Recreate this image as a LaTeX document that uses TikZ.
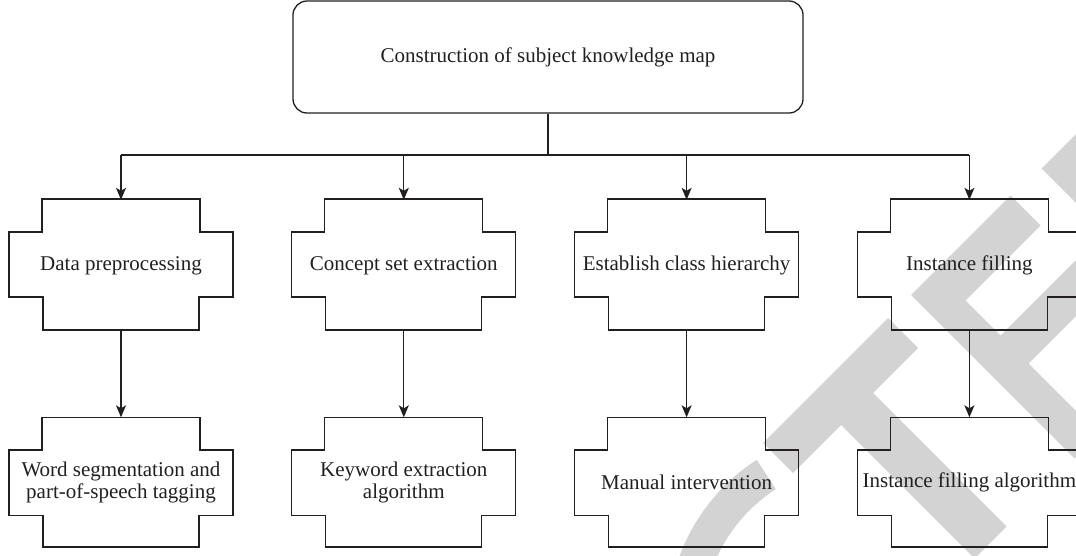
\documentclass[tikz,border=0pt]{standalone}
\usepackage{fontspec}
\setmainfont{Liberation Serif}
\usetikzlibrary{arrows.meta,calc}
\definecolor{ink}{RGB}{35,31,32}
\definecolor{wmgray}{RGB}{211,211,211}
\begin{document}
\begin{tikzpicture}[x=1pt,y=-1pt,
  line/.style={draw=ink,line width=1.3pt},
  arrow/.style={line,-{Stealth[length=12pt,width=10pt,inset=3pt]}},
  label/.style={text=ink,font=\fontsize{21}{21.5}\selectfont,align=center,inner sep=0pt},
  slot/.style={label,minimum width=158pt,minimum height=131pt},
  slotlow/.style={label,minimum width=156pt,minimum height=129.5pt},
  rootbox/.style={label,draw=ink,line width=1.3pt,rounded corners=14pt,minimum width=510pt,minimum height=112pt},
  wm/.style={fill=wmgray}]
\useasboundingbox (0,0) rectangle (1076,555);
% watermark
\begin{scope}
\clip (0,0) rectangle (1076,555);
\fill[wm] (763,443) -- (888,318) -- (918,348) -- (873,393) -- (1006.5,526.5) -- (974.5,558.5) -- (841,425) -- (793,473) -- cycle;
\fill[wm] (911,295) -- (1010.5,195.5) -- (1040.5,225.5) -- (965.5,300.5) -- (1000.5,335.5) -- (1075.5,260.5) -- (1103.5,288.5) -- (1028.5,363.5) -- (1077.5,412.5) -- (1152.5,337.5) -- (1174,359) -- (1074.5,458.5) -- cycle;
\fill[wm] (1041.5,168.5) -- (1155,55) -- (1316.5,216.5) -- (1203,330) -- cycle;
\fill[wm] ($(864,625)+(237:197)$) arc[start angle=237,end angle=165,radius=197] -- ($(864,625)+(165:162)$) arc[start angle=165,end angle=237,radius=162] -- cycle;
\end{scope}
% cross outlines
\foreach \c in {121,403.8,686.6,969.4}{
  \foreach \t/\a/\b/\e in {199/232/297/330, 417.5/450/515.5/547}{
    \draw[line] ({\c-79},\t) -- ({\c+79},\t) -- ({\c+79},\a) -- ({\c+112},\a) -- ({\c+112},\b) -- ({\c+78},\b) -- ({\c+78},\e) -- ({\c-78},\e) -- ({\c-78},\b) -- ({\c-112},\b) -- ({\c-112},\a) -- ({\c-79},\a) -- cycle;
  }
}
% nodes
\node[rootbox] (root) at (548,57) {Construction of subject knowledge map};
\node[slot] (a1) at (121,265.5) {Data preprocessing};
\node[slot] (a2) at (403.8,265.5) {Concept set extraction};
\node[slot] (a3) at (686.6,265.5) {Establish class hierarchy};
\node[slot] (a4) at (969.4,265.5) {Instance filling};
\node[slotlow] (b1) at (121,482.25) {Word segmentation and\\part-of-speech tagging};
\node[slotlow] (b2) at (403.8,482.25) {Keyword extraction\\algorithm};
\node[slotlow] (b3) at (686.6,482.25) {Manual intervention};
\node[slotlow] (b4) at (969.4,482.25) {Instance filling algorithm};
% connectors
\coordinate (bus) at (548,155);
\draw[line] (root.south) -- (bus);
\draw[line] (bus -| a1.north) -- (bus -| a4.north);
\foreach \i in {1,...,4}{
  \draw[arrow] (bus -| a\i.north) -- (a\i.north);
  \draw[arrow] (a\i.south) -- (b\i.north);
}
\end{tikzpicture}
\end{document}
